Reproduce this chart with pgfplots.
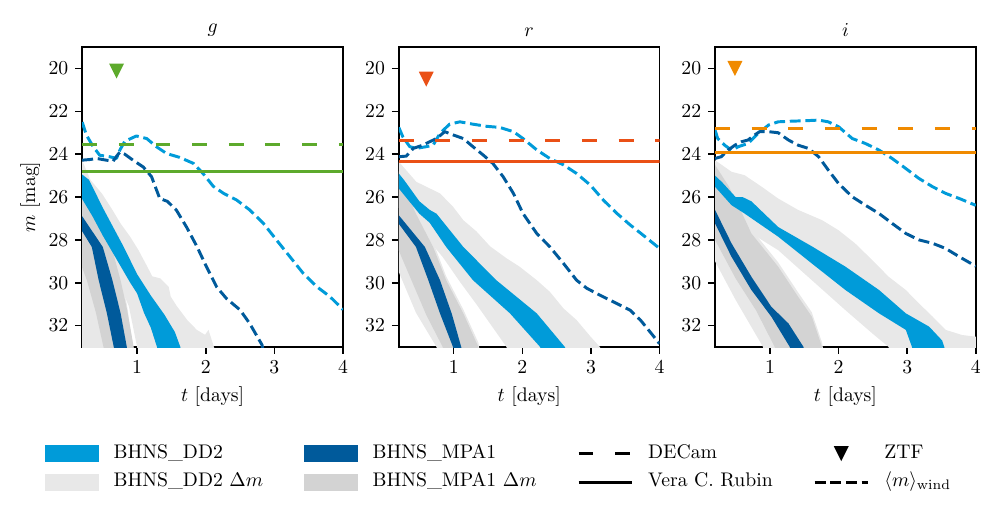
\documentclass[border=0pt]{standalone}
\usepackage{pgfplots}
\pgfplotsset{compat=1.18}
\definecolor{dd2}{HTML}{009BD9}
\definecolor{mpa1}{HTML}{005A9B}
\definecolor{dd2dm}{HTML}{E8E8E8}
\definecolor{mpadm}{HTML}{D3D3D3}
\definecolor{cg}{HTML}{5DAA2C}
\definecolor{cr}{HTML}{EA5016}
\definecolor{ci}{HTML}{F08A00}
\pgfdeclareplotmark{tdown}{%
  \pgfpathmoveto{\pgfqpoint{0pt}{-\pgfplotmarksize}}%
  \pgfpathlineto{\pgfqpoint{-\pgfplotmarksize}{\pgfplotmarksize}}%
  \pgfpathlineto{\pgfqpoint{\pgfplotmarksize}{\pgfplotmarksize}}%
  \pgfpathclose\pgfusepathqfill}
\pgfplotsset{
  panel/.style={
    scale only axis, width=132.33pt, height=152.2pt, anchor=south west,
    xmin=0.2, xmax=4, ymin=19, ymax=33, y dir=reverse,
    xtick={1,2,3,4}, ytick={20,22,...,32},
    tick align=outside, xtick pos=bottom, ytick pos=left,
    major tick length=3.5pt,
    every tick/.style={black, line width=0.8pt},
    axis line style={line width=0.8pt},
    xlabel={$t$ [days]},
    title style={yshift=-4pt},
    ylabel shift=-2.5pt,
  },
  band/.style={draw=none, fill=#1},
  wind/.style={#1, line width=1.5pt, dash pattern=on 5.55pt off 2.4pt, line join=round},
  decam/.style={#1, line width=1.5pt, dash pattern=on 7.6pt off 11pt},
  rubin/.style={#1, line width=1.5pt},
  ztf/.style={#1, only marks, mark=tdown, mark size=3.8pt},
}
\begin{document}
\begin{tikzpicture}
\path[use as bounding box] (0pt,0pt) rectangle (505.88pt,262.33pt);
% ---------------- g ----------------
\begin{axis}[panel, at={(41.71pt,86.26pt)}, title={$g$}, ylabel={$m$ [mag]}]
\addplot[band=dd2dm] coordinates {(0.2,24.3)(0.32,25.2)(0.49,25.85)(0.64,26.6)(0.76,27.24)(0.90,27.86)(1.02,28.48)(1.15,29.26)(1.22,29.7)(1.34,29.8)(1.46,30.19)(1.49,30.65)(1.58,31.1)(1.73,31.74)(1.87,32.2)(1.99,32.43)(2.04,32.2)(2.07,32.5)(2.12,33.0)(2.14,33.6)(1.02,33.6)(1.0,33.0)(0.88,31.1)(0.6,29.0)(0.2,27.0)};
\addplot[band=dd2dm] coordinates {(0.2,25.4)(0.47,26.6)(0.6,27.8)(0.76,29.7)(0.85,31.0)(0.97,33.6)(0.2,33.6)};
\addplot[band=mpadm] coordinates {(0.2,25.6)(0.47,26.8)(0.6,28.0)(0.76,29.9)(0.85,31.2)(0.95,33)(0.97,33.6)(0.53,33.6)(0.51,33)(0.4,31.4)(0.27,29.9)(0.2,29.3)};
\addplot[band=dd2] coordinates {(0.2,24.95)(0.3,25.2)(0.5,26.5)(0.7,27.7)(0.8,28.3)(1.0,29.6)(1.2,30.6)(1.4,31.5)(1.55,32.3)(1.63,33.0)(1.66,33.6)(1.32,33.6)(1.29,33.0)(1.2,32.1)(1.1,31.4)(1.0,30.5)(0.9,30.0)(0.7,28.9)(0.5,27.8)(0.35,26.9)(0.2,26.1)};
\addplot[band=mpa1] coordinates {(0.2,26.9)(0.5,28.33)(0.64,29.88)(0.76,31.43)(0.85,33)(0.87,33.6)(0.68,33.6)(0.66,33)(0.56,31.43)(0.44,29.88)(0.34,28.33)(0.2,27.6)};
\addplot[wind=dd2] coordinates {(0.2,22.5)(0.26,23.1)(0.36,23.65)(0.455,24.05)(0.60,24.12)(0.70,24.2)(0.75,23.8)(0.82,23.4)(0.99,23.15)(1.14,23.27)(1.28,23.65)(1.43,23.97)(1.62,24.15)(1.82,24.43)(1.96,24.9)(2.11,25.5)(2.26,25.83)(2.45,26.14)(2.64,26.6)(2.84,27.23)(3.03,28.0)(3.23,28.8)(3.42,29.56)(3.62,30.19)(3.81,30.65)(4.0,31.25)};
\addplot[wind=mpa1] coordinates {(0.2,24.28)(0.31,24.25)(0.41,24.2)(0.55,24.28)(0.65,24.33)(0.70,24.1)(0.75,23.9)(0.82,24.0)(0.94,24.28)(1.09,24.6)(1.21,25.05)(1.33,26.07)(1.44,26.2)(1.57,26.6)(1.72,27.4)(1.87,28.3)(2.01,29.25)(2.16,30.2)(2.30,30.73)(2.50,31.27)(2.64,31.9)(2.82,32.9)(2.86,33.6)};
\addplot[decam=cg] coordinates {(0.2,23.57)(4,23.57)};
\addplot[rubin=cg] coordinates {(0.2,24.8)(4,24.8)};
\addplot[ztf=cg] coordinates {(0.70,20.12)};
\end{axis}
% ---------------- r ----------------
\begin{axis}[panel, at={(202.35pt,86.26pt)}, title={$r$},
  legend columns=4, legend cell align=left,
  legend style={at={(0.380,-0.31)}, anchor=north, draw=none, fill=none,
    /tikz/every odd column/.append style={column sep=7.6pt},
    /tikz/every even column/.append style={column sep=20.5pt},
    /tikz/row sep=5pt,
    nodes={inner sep=0pt, text height=7pt, text depth=2.5pt}}]
\addlegendimage{legend image code/.code={\fill[dd2] (0pt,-4pt) rectangle (27pt,4pt);}}
\addlegendentry{BHNS\_DD2}
\addlegendimage{legend image code/.code={\fill[mpa1] (0pt,-4pt) rectangle (27pt,4pt);}}
\addlegendentry{BHNS\_MPA1}
\addlegendimage{legend image code/.code={\path[draw=none,fill=none] (0pt,-4pt) rectangle (27pt,4pt); \draw[black,line width=1.5pt,dash pattern=on 7.6pt off 11pt] (0pt,0pt) -- (27pt,0pt);}}
\addlegendentry{DECam}
\addlegendimage{legend image code/.code={\path[draw=none,fill=none] (0pt,-4pt) rectangle (27pt,4pt); \path[black] plot[only marks, mark=tdown, mark size=3.8pt] coordinates {(13.5pt,0pt)};}}
\addlegendentry{ZTF}
\addlegendimage{legend image code/.code={\fill[dd2dm] (0pt,-4pt) rectangle (27pt,4pt);}}
\addlegendentry{BHNS\_DD2 $\Delta m$}
\addlegendimage{legend image code/.code={\fill[mpadm] (0pt,-4pt) rectangle (27pt,4pt);}}
\addlegendentry{BHNS\_MPA1 $\Delta m$}
\addlegendimage{legend image code/.code={\path[draw=none,fill=none] (0pt,-4pt) rectangle (27pt,4pt); \draw[black,line width=1.5pt] (0pt,0pt) -- (27pt,0pt);}}
\addlegendentry{Vera C. Rubin}
\addlegendimage{legend image code/.code={\path[draw=none,fill=none] (0pt,-4pt) rectangle (27pt,4pt); \draw[black,line width=1.5pt,dash pattern=on 5.55pt off 2.4pt] (0pt,0pt) -- (27pt,0pt);}}
\addlegendentry{$\langle m\rangle_{\mathrm{wind}}$}
\addplot[band=dd2dm] coordinates {(0.2,24.35)(0.455,25.29)(0.80,25.83)(0.99,26.45)(1.14,27.08)(1.33,27.6)(1.53,28.3)(1.77,28.86)(1.96,29.25)(2.21,29.88)(2.40,30.42)(2.60,31.2)(2.79,31.74)(2.99,32.5)(3.13,33.0)(3.2,33.6)(1.8,33.6)(1.77,33)(1.55,32.0)(1.33,31.0)(1.1,30.0)(0.84,28.8)(0.5,27.5)(0.2,26.5)};
\addplot[band=dd2dm] coordinates {(0.2,24.8)(0.45,26.6)(0.70,28.1)(0.89,29.7)(1.14,31.25)(1.36,32.8)(1.4,33.6)(0.77,33.6)(0.75,33)(0.45,31.4)(0.2,29.5)};
\addplot[band=mpadm] coordinates {(0.2,25.0)(0.45,26.78)(0.70,28.33)(0.89,29.88)(1.14,31.43)(1.36,33)(1.4,33.6)(0.86,33.6)(0.84,33)(0.6,31.5)(0.4,30.0)(0.2,28.5)};
\addplot[band=dd2] coordinates {(0.2,24.9)(0.28,25.22)(0.5,26.2)(0.65,26.6)(0.75,26.78)(1.14,28.33)(1.62,29.88)(2.21,31.43)(2.62,33)(2.7,33.6)(2.3,33.6)(2.26,33)(1.82,31.43)(1.28,29.88)(0.89,28.33)(0.65,27.2)(0.5,26.78)(0.2,25.6)};
\addplot[band=mpa1] coordinates {(0.2,26.85)(0.58,28.33)(0.80,29.88)(0.97,31.43)(1.11,33)(1.13,33.6)(1.0,33.6)(0.99,33)(0.80,31.43)(0.63,29.88)(0.45,28.33)(0.2,27.25)};
\addplot[wind=dd2] coordinates {(0.2,22.75)(0.26,23.2)(0.36,23.65)(0.455,23.73)(0.60,23.65)(0.70,23.58)(0.80,23.03)(0.94,22.6)(1.09,22.49)(1.28,22.6)(1.48,22.7)(1.67,22.75)(1.87,22.95)(2.01,23.27)(2.21,23.8)(2.40,24.2)(2.60,24.5)(2.79,24.9)(2.99,25.44)(3.18,26.14)(3.38,26.77)(3.57,27.3)(3.76,27.78)(4.0,28.4)};
\addplot[wind=mpa1] coordinates {(0.2,24.12)(0.31,24.09)(0.41,23.73)(0.55,23.58)(0.65,23.42)(0.75,23.27)(0.87,22.95)(0.99,23.1)(1.14,23.27)(1.28,23.65)(1.43,24.04)(1.57,24.43)(1.72,25.05)(1.87,25.83)(2.01,26.77)(2.21,27.7)(2.40,28.32)(2.60,29.1)(2.79,29.88)(2.94,30.26)(3.13,30.58)(3.37,30.96)(3.57,31.28)(3.72,31.74)(3.86,32.29)(4.0,32.85)};
\addplot[decam=cr] coordinates {(0.2,23.34)(4,23.34)};
\addplot[rubin=cr] coordinates {(0.2,24.34)(4,24.34)};
\addplot[ztf=cr] coordinates {(0.60,20.5)};
\end{axis}
% ---------------- i ----------------
\begin{axis}[panel, at={(362.8pt,86.26pt)}, title={$i$}]
\addplot[band=dd2dm] coordinates {(0.2,24.28)(0.44,24.82)(0.63,24.98)(0.88,25.52)(1.12,26.07)(1.41,26.6)(1.76,27.08)(2.0,27.55)(2.24,28.16)(2.49,28.94)(2.73,29.72)(2.98,30.34)(3.17,30.96)(3.37,31.58)(3.56,32.2)(3.8,32.44)(4.0,32.52)(4.05,33.6)(2.76,33.6)(2.73,33)(2.49,32.36)(2.1,31.28)(1.61,29.88)(1.12,28.48)(0.73,27.7)(0.2,26.5)};
\addplot[band=dd2dm] coordinates {(0.2,24.3)(0.4,25.3)(0.6,26.6)(0.73,27.5)(1.12,29.05)(1.41,30.45)(1.61,31.38)(1.76,32.8)(1.8,33.6)(0.92,33.6)(0.9,33)(0.5,30.8)(0.2,29.0)};
\addplot[band=mpadm] coordinates {(0.2,24.5)(0.4,25.5)(0.6,26.8)(0.73,27.7)(1.12,29.25)(1.41,30.65)(1.61,31.58)(1.76,33)(1.8,33.6)(1.1,33.6)(1.07,33)(0.8,31.3)(0.5,29.8)(0.2,28.0)};
\addplot[band=dd2] coordinates {(0.2,25.0)(0.3,25.3)(0.5,26.0)(0.6,26.0)(0.73,26.2)(1.12,27.4)(1.61,28.3)(2.1,29.25)(2.59,30.34)(2.98,31.43)(3.32,32.05)(3.51,32.7)(3.6,33.6)(3.1,33.6)(3.07,33)(2.98,32.2)(2.59,31.43)(2.1,30.34)(1.61,29.1)(1.12,27.85)(0.63,26.77)(0.44,26.38)(0.2,25.52)};
\addplot[band=mpa1] coordinates {(0.2,26.6)(0.44,28.16)(0.73,29.72)(1.02,31.12)(1.27,31.9)(1.49,33)(1.52,33.6)(1.31,33.6)(1.29,33)(1.02,31.58)(0.73,30.34)(0.44,28.79)(0.2,27.23)};
\addplot[wind=dd2] coordinates {(0.2,22.88)(0.24,23.27)(0.34,23.58)(0.44,23.81)(0.54,23.65)(0.68,23.5)(0.83,23.03)(0.98,22.64)(1.12,22.49)(1.32,22.46)(1.51,22.44)(1.71,22.41)(1.85,22.49)(2.0,22.72)(2.2,23.27)(2.39,23.5)(2.59,23.81)(2.78,24.2)(2.98,24.67)(3.17,25.13)(3.37,25.52)(3.56,25.83)(3.76,26.07)(4.0,26.39)};
\addplot[wind=mpa1] coordinates {(0.2,24.2)(0.29,24.12)(0.39,23.81)(0.49,23.58)(0.585,23.42)(0.68,23.34)(0.78,23.1)(0.85,22.95)(0.98,22.95)(1.12,23.0)(1.27,23.34)(1.41,23.58)(1.56,23.73)(1.71,24.12)(1.85,24.74)(2.0,25.37)(2.2,25.99)(2.39,26.38)(2.59,26.77)(2.78,27.23)(2.98,27.7)(3.17,28.0)(3.37,28.16)(3.56,28.4)(3.76,28.79)(4.0,29.23)};
\addplot[decam=ci] coordinates {(0.2,22.78)(4,22.78)};
\addplot[rubin=ci] coordinates {(0.2,23.9)(4,23.9)};
\addplot[ztf=ci] coordinates {(0.49,20.0)};
\end{axis}
\end{tikzpicture}
\end{document}
